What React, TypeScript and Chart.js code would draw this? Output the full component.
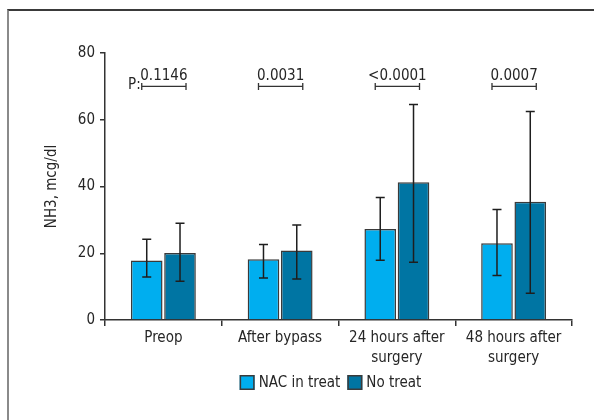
import React, { useEffect, useRef } from "react";
import { Chart, registerables } from "chart.js";
Chart.register(...registerables);

const categories = [["Preop"], ["After bypass"], ["24 hours after", "surgery"], ["48 hours after", "surgery"]];
const seriesNames = ["NAC in treat", "No treat"];
const nacMean = [17.8, 18.2, 27.3, 23.0];
const nacLow = [12.9, 12.6, 17.9, 13.3];
const nacHigh = [24.2, 22.6, 36.7, 33.1];
const noMean = [20.1, 20.8, 41.3, 35.4];
const noLow = [11.6, 12.3, 17.3, 8.0];
const noHigh = [29.0, 28.5, 64.6, 62.5];
const pValues = ["0.1146", "0.0031", "<0.0001", "0.0007"];
const pLevel = [70, 70, 70, 70];
const yTicks = [0, 20, 40, 60, 80];

const FONT = "'DejaVu Sans Condensed', 'Liberation Sans Narrow', 'Open Sans', sans-serif";
const FS = 15;
const TEXT = "#262626";
const AXIS = "#333333";
const LIGHT = "#00AEEF";
const DARK = "#0075A3";
const EDGE = "#3a3a3a";

const errorBarPlugin = {
  id: "errorBars",
  afterDatasetsDraw(chart: any) {
    const ctx = chart.ctx;
    const y = chart.scales.y;
    ctx.save();
    ctx.strokeStyle = "#1e1e1e";
    ctx.lineWidth = 1.5;
    chart.data.datasets.forEach((ds: any, i: number) => {
      const meta = chart.getDatasetMeta(i);
      meta.data.forEach((bar: any, j: number) => {
        const x = bar.x;
        const lo = y.getPixelForValue(ds.errLow[j]);
        const hi = y.getPixelForValue(ds.errHigh[j]);
        ctx.beginPath();
        ctx.moveTo(x, lo);
        ctx.lineTo(x, hi);
        ctx.moveTo(x - 4.5, lo);
        ctx.lineTo(x + 4.5, lo);
        ctx.moveTo(x - 4.5, hi);
        ctx.lineTo(x + 4.5, hi);
        ctx.stroke();
      });
    });
    // p-value brackets
    const m0 = chart.getDatasetMeta(0);
    const m1 = chart.getDatasetMeta(1);
    ctx.font = `${FS}px ${FONT}`;
    ctx.fillStyle = TEXT;
    ctx.strokeStyle = AXIS;
    ctx.lineWidth = 1.3;
    pValues.forEach((p, j) => {
      const yy = y.getPixelForValue(pLevel[j]);
      const x0 = m0.data[j].x - 5;
      const x1 = m1.data[j].x + 6;
      ctx.beginPath();
      ctx.moveTo(x0, yy);
      ctx.lineTo(x1, yy);
      ctx.moveTo(x0, yy - 3.5);
      ctx.lineTo(x0, yy + 3.5);
      ctx.moveTo(x1, yy - 3.5);
      ctx.lineTo(x1, yy + 3.5);
      ctx.stroke();
      ctx.textAlign = "center";
      ctx.textBaseline = "alphabetic";
      ctx.fillText(p, (x0 + x1) / 2, yy - 6);
      if (j === 0) {
        ctx.textAlign = "right";
        ctx.fillText("P:", x0 - 1, yy + 3);
      }
    });
    ctx.restore();
  },
};

const legendPlugin = {
  id: "customLegend",
  afterDraw(chart: any) {
    const ctx = chart.ctx;
    const area = chart.chartArea;
    ctx.save();
    ctx.font = `${FS}px ${FONT}`;
    const box = 15;
    const gap = 4;
    const itemGap = 7;
    const items = chart.data.datasets.map((ds: any) => ({
      label: ds.label,
      color: ds.backgroundColor,
      w: ctx.measureText(ds.label).width,
    }));
    let total = 0;
    items.forEach((it: any, i: number) => {
      total += box + gap + it.w + (i < items.length - 1 ? itemGap : 0);
    });
    let x = (area.left + area.right) / 2 - 8 - total / 2;
    const cy = area.bottom + 62.5;
    items.forEach((it: any) => {
      ctx.fillStyle = it.color;
      ctx.fillRect(x, cy - box / 2, box, box);
      ctx.strokeStyle = EDGE;
      ctx.lineWidth = 1.5;
      ctx.strokeRect(x + 0.75, cy - box / 2 + 0.75, box - 1.5, box - 1.5);
      ctx.fillStyle = TEXT;
      ctx.textAlign = "left";
      ctx.textBaseline = "middle";
      ctx.fillText(it.label, x + box + gap, cy + 1);
      x += box + gap + it.w + itemGap;
    });
    ctx.restore();
  },
};

export default function App() {
  const ref = useRef<HTMLCanvasElement>(null);
  useEffect(() => {
    if (!ref.current) return;
    const font = { family: FONT, size: FS };
    const chart = new Chart(ref.current, {
      type: "bar",
      data: {
        labels: categories as any,
        datasets: [
          {
            label: seriesNames[0],
            data: nacMean,
            backgroundColor: LIGHT,
            borderColor: EDGE,
            borderWidth: 1.5,
            categoryPercentage: 0.57,
            barPercentage: 0.95,
            errLow: nacLow,
            errHigh: nacHigh,
          } as any,
          {
            label: seriesNames[1],
            data: noMean,
            backgroundColor: DARK,
            borderColor: EDGE,
            borderWidth: 1.5,
            categoryPercentage: 0.57,
            barPercentage: 0.95,
            errLow: noLow,
            errHigh: noHigh,
          } as any,
        ],
      },
      options: {
        responsive: false,
        animation: false,
        devicePixelRatio: 1,
        layout: { padding: { left: 37, right: 22, top: 53, bottom: 40 } },
        plugins: { legend: { display: false }, tooltip: { enabled: false } },
        scales: {
          x: {
            offset: true,
            grid: {
              display: true,
              drawOnChartArea: false,
              drawTicks: true,
              tickLength: 6,
              color: AXIS,
              lineWidth: 1.5,
              offset: true,
            },
            border: { color: AXIS, width: 1.5 },
            ticks: { font: { ...font, lineHeight: "20px" }, color: TEXT, padding: 2, maxRotation: 0, autoSkip: false },
            afterFit: (s: any) => {
              s.height = 60;
            },
          },
          y: {
            min: 0,
            max: 80,
            afterBuildTicks: (s: any) => {
              s.ticks = yTicks.map((v) => ({ value: v }));
            },
            grid: { drawOnChartArea: false, tickLength: 5, color: AXIS, lineWidth: 1.5 },
            border: { color: AXIS, width: 1.5 },
            ticks: { font, color: TEXT, padding: 5 },
            title: { display: true, text: "NH3, mcg/dl", font, color: TEXT, padding: { top: 6, bottom: 4 } },
            afterFit: (s: any) => {
              s.width = 68;
            },
          },
        },
      } as any,
      plugins: [errorBarPlugin, legendPlugin],
    });
    return () => chart.destroy();
  }, []);
  return (
    <div style={{ position: "fixed", left: 0, top: 0, width: 594, height: 420, background: "#fff", overflow: "hidden" }}>
      <canvas ref={ref} width={594} height={420} style={{ display: "block", position: "absolute", left: 0, top: 0 }} />
      <div
        style={{
          position: "absolute",
          left: 7,
          top: 9,
          width: 600,
          height: 420,
          borderTop: "2px solid #3a3a3a",
          borderLeft: "2px solid #8a8a8a",
          pointerEvents: "none",
        }}
      />
    </div>
  );
}
